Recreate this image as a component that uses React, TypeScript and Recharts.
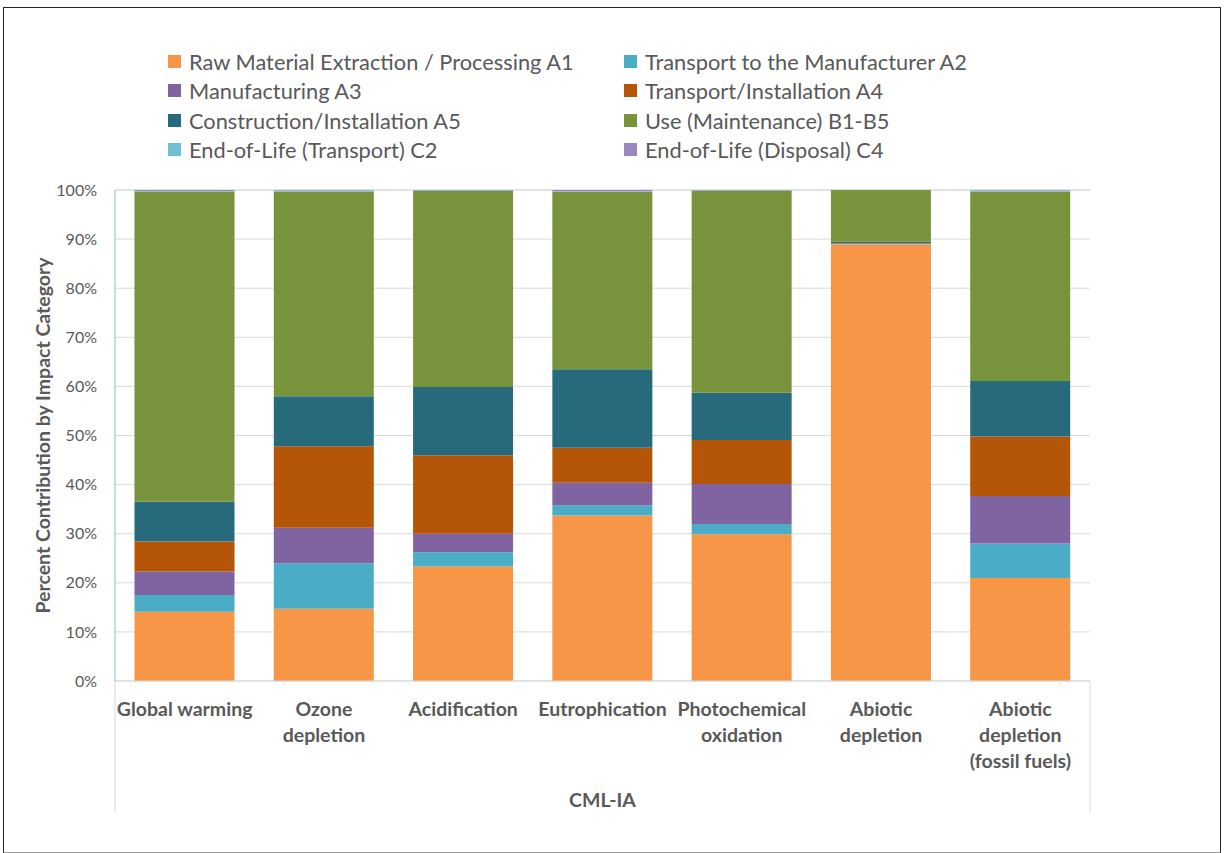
import { Bar, BarChart, CartesianGrid, XAxis, YAxis } from "recharts";

const CATEGORIES = [
  "Global warming",
  "Ozone depletion",
  "Acidification",
  "Eutrophication",
  "Photochemical oxidation",
  "Abiotic depletion",
  "Abiotic depletion (fossil fuels)",
];

// how Excel wrapped each category label
const CATEGORY_LINES: string[][] = [
  ["Global warming"],
  ["Ozone", "depletion"],
  ["Acidification"],
  ["Eutrophication"],
  ["Photochemical", "oxidation"],
  ["Abiotic", "depletion"],
  ["Abiotic", "depletion", "(fossil fuels)"],
];

const A1 = [14.1, 14.7, 23.3, 33.7, 29.9, 88.9, 21.0];
const A2 = [3.4, 9.3, 2.9, 2.1, 2.1, 0.1, 7.0];
const A3 = [4.8, 7.2, 3.8, 4.6, 8.1, 0.1, 9.7];
const A4 = [6.1, 16.6, 16.0, 7.1, 9.0, 0.1, 12.1];
const A5 = [8.1, 10.2, 13.9, 16.0, 9.6, 0.3, 11.3];
const B1_B5 = [63.2, 41.7, 39.9, 36.1, 41.1, 10.5, 38.6];
const C2 = [0.1, 0.2, 0.15, 0.1, 0.1, 0.0, 0.2];
const C4 = [0.2, 0.1, 0.05, 0.3, 0.1, 0.0, 0.1];

const Y_TICKS = [0, 10, 20, 30, 40, 50, 60, 70, 80, 90, 100];

const SERIES = [
  { key: "a1", name: "Raw Material Extraction / Processing A1", values: A1, color: "#F79646" },
  { key: "a2", name: "Transport to the Manufacturer A2", values: A2, color: "#4BACC6" },
  { key: "a3", name: "Manufacturing A3", values: A3, color: "#8064A2" },
  { key: "a4", name: "Transport/Installation A4", values: A4, color: "#B45508" },
  { key: "a5", name: "Construction/Installation A5", values: A5, color: "#276A7C" },
  { key: "b", name: "Use (Maintenance) B1-B5", values: B1_B5, color: "#77933C" },
  { key: "c2", name: "End-of-Life (Transport) C2", values: C2, color: "#6FBFD4" },
  { key: "c4", name: "End-of-Life (Disposal) C4", values: C4, color: "#9B87BE" },
];

const FONT = "Lato, 'Open Sans', sans-serif";
const TEXT = "#595959";

const data = CATEGORIES.map((c, i) => {
  const row: Record<string, number | string> = { category: c, idx: i };
  SERIES.forEach((s) => {
    row[s.key] = s.values[i];
  });
  return row;
});

function CategoryTick(props: any) {
  const { x, y, index } = props;
  const lines = CATEGORY_LINES[index] ?? [String(props.payload?.value)];
  return (
    <text
      x={x}
      y={y}
      textAnchor="middle"
      fill={TEXT}
      fontFamily={FONT}
      fontWeight={700}
      fontSize={19.5}
    >
      {lines.map((l, i) => (
        <tspan key={i} x={x} y={y + 35 + i * 26}>
          {l}
        </tspan>
      ))}
    </text>
  );
}

// outer category group of the multi-level axis: side rules + "CML-IA"
function GroupLabel(props: any) {
  const { x, y, width, height } = props.viewBox;
  return (
    <g>
      <line x1={x} y1={y} x2={x} y2={y + height} stroke="#D9D9D9" />
      <line x1={x + width} y1={y} x2={x + width} y2={y + height} stroke="#D9D9D9" />
      <text
        x={x + width / 2}
        y={y + 126}
        textAnchor="middle"
        fill={TEXT}
        fontFamily={FONT}
        fontWeight={700}
        fontSize={19.5}
      >
        CML-IA
      </text>
    </g>
  );
}

function YTitle(props: any) {
  const { y, height } = props.viewBox;
  const cy = y + height / 2;
  return (
    <text
      x={42}
      y={cy}
      transform={`rotate(-90 42 ${cy})`}
      textAnchor="middle"
      dominantBaseline="central"
      fill={TEXT}
      fontFamily={FONT}
      fontWeight={700}
      fontSize={19.5}
    >
      Percent Contribution by Impact Category
    </text>
  );
}

export default function App() {
  return (
    <div style={{ position: "absolute", left: 0, top: 0, width: 1225, height: 853, background: "#fff" }}>
      <div
        style={{
          position: "absolute",
          left: 3,
          top: 7,
          width: 1216,
          height: 844,
          borderTop: "1px solid #222",
          borderLeft: "1px solid #222",
          borderRight: "1px solid #222",
          borderBottom: "1px solid #999",
        }}
      />
      <div
        style={{
          position: "absolute",
          left: 168,
          top: 47,
          display: "grid",
          gridTemplateColumns: "456px 400px",
          rowGap: 0,
          fontFamily: FONT,
          fontSize: 21.8,
          color: TEXT,
        }}
      >
        {SERIES.map((s) => (
          <div key={s.key} style={{ display: "flex", alignItems: "center", height: 29.3 }}>
            <span style={{ width: 13, height: 13, background: s.color, marginRight: 8, flex: "none" }} />
            <span style={{ whiteSpace: "nowrap" }}>{s.name}</span>
          </div>
        ))}
      </div>
      <div style={{ position: "absolute", left: 0, top: 0 }}>
        <BarChart
          width={1225}
          height={853}
          data={data}
          margin={{ top: 190, right: 135, bottom: 40, left: 15 }}
          barCategoryGap="14%"
        >
          <CartesianGrid vertical={false} stroke="#D9D9D9" />
          <XAxis
            dataKey="category"
            height={132}
            interval={0}
            tickSize={0}
            tickMargin={0}
            tickLine={false}
            axisLine={{ stroke: "#D9D9D9" }}
            tick={<CategoryTick />}
            label={<GroupLabel />}
          />
          <YAxis
            width={100}
            domain={[0, 100]}
            ticks={Y_TICKS}
            tickFormatter={(v: number) => `${v}%`}
            tickLine={false}
            tickMargin={12}
            axisLine={{ stroke: "#8EB4E3" }}
            tick={{ fill: TEXT, fontSize: 16, fontFamily: FONT }}
            label={<YTitle />}
          />
          {SERIES.map((s) => (
            <Bar
              key={s.key}
              dataKey={s.key}
              name={s.name}
              stackId="lca"
              fill={s.color}
              isAnimationActive={false}
            />
          ))}
        </BarChart>
      </div>
    </div>
  );
}
